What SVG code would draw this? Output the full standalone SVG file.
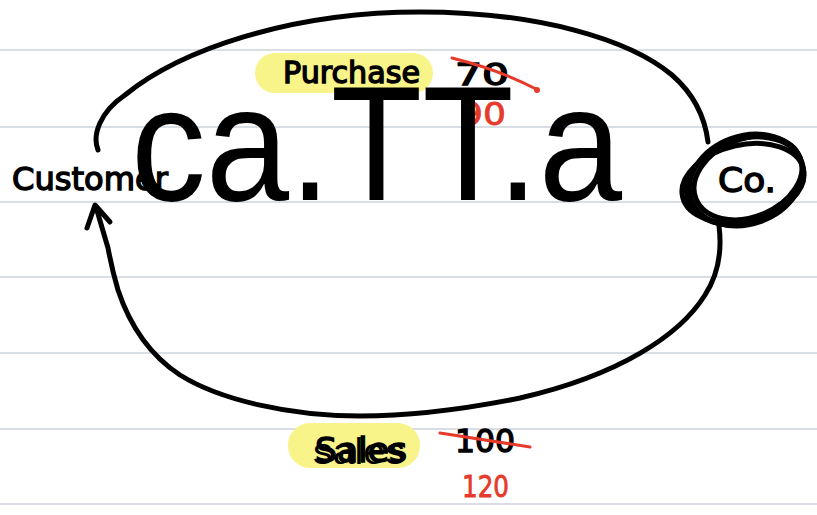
<svg xmlns="http://www.w3.org/2000/svg" width="817" height="515" viewBox="0 0 817 515">
<style>
.rule{stroke:#cdd3dd;stroke-width:1.6}
.ink{fill:none;stroke:#000;stroke-width:5;stroke-linecap:round;stroke-linejoin:round}
.hl{fill:#f8f48a}
.hw{font-family:"DejaVu Sans",sans-serif;fill:#000;stroke:#000;stroke-width:1.4}
.red{font-family:"DejaVu Sans",sans-serif;fill:#e63a2a;stroke:#e63a2a;stroke-width:0.8}
.strike{fill:none;stroke:#e63a2a;stroke-width:3;stroke-linecap:round}
.typed{font-family:"Liberation Sans",Arial,sans-serif;fill:#000}
</style>
<rect width="817" height="515" fill="#fff"/>
<g id="paper-lines">
<line class="rule" x1="0" y1="50" x2="817" y2="50"/>
<line class="rule" x1="0" y1="127" x2="817" y2="127"/>
<line class="rule" x1="0" y1="202" x2="817" y2="202"/>
<line class="rule" x1="0" y1="277" x2="817" y2="277"/>
<line class="rule" x1="0" y1="353" x2="817" y2="353"/>
<line class="rule" x1="0" y1="429" x2="817" y2="429"/>
<line class="rule" x1="0" y1="504" x2="817" y2="504"/>
</g>
<g id="purchase-label">
<rect class="hl" x="255" y="53" width="178" height="40" rx="20"/>
<text class="hw" x="283" y="83" font-size="30" textLength="137" lengthAdjust="spacingAndGlyphs">Purchase</text>
<text class="hw" x="455" y="85" font-size="30" textLength="54" lengthAdjust="spacingAndGlyphs">70</text>
<path class="strike" d="M452 58 Q500 70 536 89"/>
<circle cx="537" cy="90" r="3" fill="#e63a2a"/>
<text class="red" x="460" y="125" font-size="32" textLength="46" lengthAdjust="spacingAndGlyphs">90</text>
</g>
<g id="sales-label">
<rect class="hl" x="288" y="423" width="132" height="45" rx="22"/>
<text class="hw" x="315" y="462" font-size="34" textLength="92" lengthAdjust="spacingAndGlyphs">Sales</text>
<text class="hw" x="455" y="452" font-size="32" textLength="60" lengthAdjust="spacingAndGlyphs">100</text>
<path class="strike" d="M440 433 Q485 440 530 447"/>
<text class="red" x="462" y="497" font-size="30" textLength="47" lengthAdjust="spacingAndGlyphs">120</text>
</g>
<g id="customer">
<text class="hw" x="12" y="190" font-size="32" textLength="156" lengthAdjust="spacingAndGlyphs">Customer</text>
</g>
<g id="company">
<g class="ink">
<ellipse cx="745" cy="181" rx="60" ry="42" transform="rotate(-18 745 181)"/>
<ellipse cx="748" cy="178" rx="56" ry="39" transform="rotate(-22 748 178)"/>
<ellipse cx="743" cy="183" rx="62" ry="38" transform="rotate(-13 743 183)"/>
<ellipse cx="746" cy="180" rx="58" ry="44" transform="rotate(-20 746 180)"/>
</g>
<text class="hw" x="718" y="192" font-size="34" textLength="58" lengthAdjust="spacingAndGlyphs">Co.</text>
</g>
<g id="connectors" class="ink">
<path d="M98 150 C92 135 100 112 125 95 C180 50 290 12 420 12 C540 12 630 40 672 75 C695 95 705 118 708 142"/>
<path d="M719 226 C722 250 718 275 705 295 C680 335 620 375 520 398 C460 410 410 416 360 416 C290 416 220 400 180 375 C145 352 128 320 118 290 C112 270 110 258 108 248 L96 207"/>
<path d="M87 228 L95 205 L110 222"/>
</g>
<g id="overlay-text">
<text class="typed" x="131" y="200" font-size="163" textLength="491" lengthAdjust="spacingAndGlyphs">ca.TT.a</text>
<text class="typed" x="313" y="464" font-size="36" textLength="92" lengthAdjust="spacingAndGlyphs">sales</text>
</g>
</svg>
